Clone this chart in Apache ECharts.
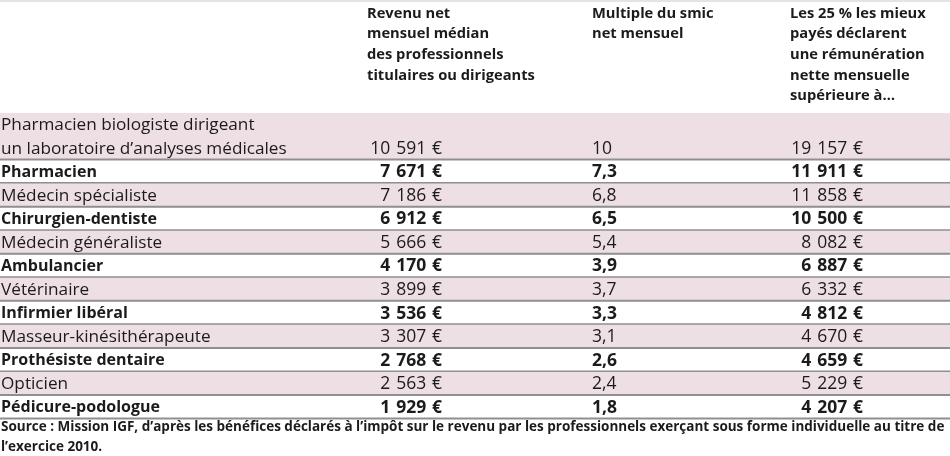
<!DOCTYPE html>
<html>
<head>
<meta charset="utf-8">
<script src="https://cdn.jsdelivr.net/npm/echarts@6/dist/echarts.min.js"></script>
<style>
html,body{margin:0;padding:0;background:#fff;}
#chart{width:950px;height:456px;}
</style>
</head>
<body>
<div id="chart"></div>
<script>
// ---- Data ----
const professions = [
  "Pharmacien biologiste dirigeant\nun laboratoire d\u2019analyses médicales",
  "Pharmacien",
  "Médecin spécialiste",
  "Chirurgien-dentiste",
  "Médecin généraliste",
  "Ambulancier",
  "Vétérinaire",
  "Infirmier libéral",
  "Masseur-kinésithérapeute",
  "Prothésiste dentaire",
  "Opticien",
  "Pédicure-podologue"
];
const medianIncome = [10591, 7671, 7186, 6912, 5666, 4170, 3899, 3536, 3307, 2768, 2563, 1929];
const smicMultiple = [10, 7.3, 6.8, 6.5, 5.4, 3.9, 3.7, 3.3, 3.1, 2.6, 2.4, 1.8];
const top25Income = [19157, 11911, 11858, 10500, 8082, 6887, 6332, 4812, 4670, 4659, 5229, 4207];

const columnHeaders = [
  "Revenu net\nmensuel médian\ndes professionnels\ntitulaires ou dirigeants",
  "Multiple du smic\nnet mensuel",
  "Les 25 % les mieux\npayés déclarent\nune rémunération\nnette mensuelle\nsupérieure à…"
];
const sourceText = "Source : Mission IGF, d\u2019après les bénéfices déclarés à l\u2019impôt sur le revenu par les professionnels exerçant sous forme individuelle au titre de\nl\u2019exercice 2010.";

// ---- Helpers ----
function euro(v) {
  return String(v).replace(/\B(?=(\d{3})+(?!\d))/g, "\u2004") + "\u2004\u20ac";
}
function frNum(v) {
  return String(v).replace(".", ",");
}

// rows occupy as many slots as label lines
let slot = 0;
const rows = professions.map((p, i) => {
  const n = p.split("\n").length;
  const r = [slot, slot + n, i];
  slot += n;
  return r;
});
const totalSlots = slot;

const FONT = "'Open Sans', sans-serif";
const TEXT_COLOR = "#1b1b1b";
const SHADE = "#eedfe4";
const RULE = "#8f8f8f";

// Column anchors in x-axis units (axis spans chart width)
const X_LABEL = 1, X_COL1 = 442, X_COL2 = 592, X_COL3 = 863;

const chart = echarts.init(document.getElementById("chart"), null, {renderer: "canvas"});

chart.setOption({
  animation: false,
  backgroundColor: "#fff",
  grid: {left: 0, right: 0, top: 113, bottom: 37},
  xAxis: {type: "value", min: 0, max: 950, show: false},
  yAxis: {type: "value", min: 0, max: totalSlots, inverse: true, show: false},
  graphic: [
    {type: "rect", left: 0, top: 0, shape: {width: 950, height: 2}, style: {fill: "#e4e4e4"}},
    {type: "text", left: 367, top: 3, style: {text: columnHeaders[0], font: "bold 14.7px " + FONT, lineHeight: 20.7, fill: TEXT_COLOR}},
    {type: "text", left: 592, top: 3, style: {text: columnHeaders[1], font: "bold 14.7px " + FONT, lineHeight: 20.7, fill: TEXT_COLOR}},
    {type: "text", left: 790, top: 3, style: {text: columnHeaders[2], font: "bold 14.7px " + FONT, lineHeight: 20.7, fill: TEXT_COLOR}},
    {type: "text", left: 1, top: 417, style: {text: sourceText, font: "bold 13.5px " + FONT, lineHeight: 20, fill: TEXT_COLOR}}
  ],
  series: [{
    type: "custom",
    coordinateSystem: "cartesian2d",
    data: rows,
    renderItem: function (params, api) {
      const i = params.dataIndex;
      const start = api.value(0), end = api.value(1);
      const top = api.coord([0, start])[1];
      const bottom = api.coord([0, end])[1];
      const left = api.coord([0, 0])[0];
      const right = api.coord([950, 0])[0];
      const shaded = i % 2 === 0;
      const labelFont = (shaded ? "17.2px " : "bold 16px ") + FONT;
      const numFont = (shaded ? "17.5px " : "bold 17.5px ") + FONT;
      const slotH = (bottom - top) / (end - start);
      const lastMid = bottom - slotH / 2 + 0.5;
      const lines = professions[i].split("\n");
      const children = [];
      if (shaded) {
        children.push({type: "rect", shape: {x: left, y: top, width: right - left, height: bottom - top}, style: {fill: SHADE}});
      }
      children.push({type: "rect", shape: {x: left, y: bottom - 1.5, width: right - left, height: 2}, style: {fill: RULE}});
      lines.forEach((ln, k) => {
        children.push({type: "text", style: {text: ln, x: api.coord([X_LABEL, 0])[0], y: top + slotH * (k + 0.5) + 0.5, textAlign: "left", textVerticalAlign: "middle", font: labelFont, fill: TEXT_COLOR}});
      });
      children.push({type: "text", style: {text: euro(medianIncome[i]), x: api.coord([X_COL1, 0])[0], y: lastMid, textAlign: "right", textVerticalAlign: "middle", font: numFont, fill: TEXT_COLOR}});
      children.push({type: "text", style: {text: frNum(smicMultiple[i]), x: api.coord([X_COL2, 0])[0], y: lastMid, textAlign: "left", textVerticalAlign: "middle", font: numFont, fill: TEXT_COLOR}});
      children.push({type: "text", style: {text: euro(top25Income[i]), x: api.coord([X_COL3, 0])[0], y: lastMid, textAlign: "right", textVerticalAlign: "middle", font: numFont, fill: TEXT_COLOR}});
      return {type: "group", children: children};
    }
  }]
});
</script>
</body>
</html>
